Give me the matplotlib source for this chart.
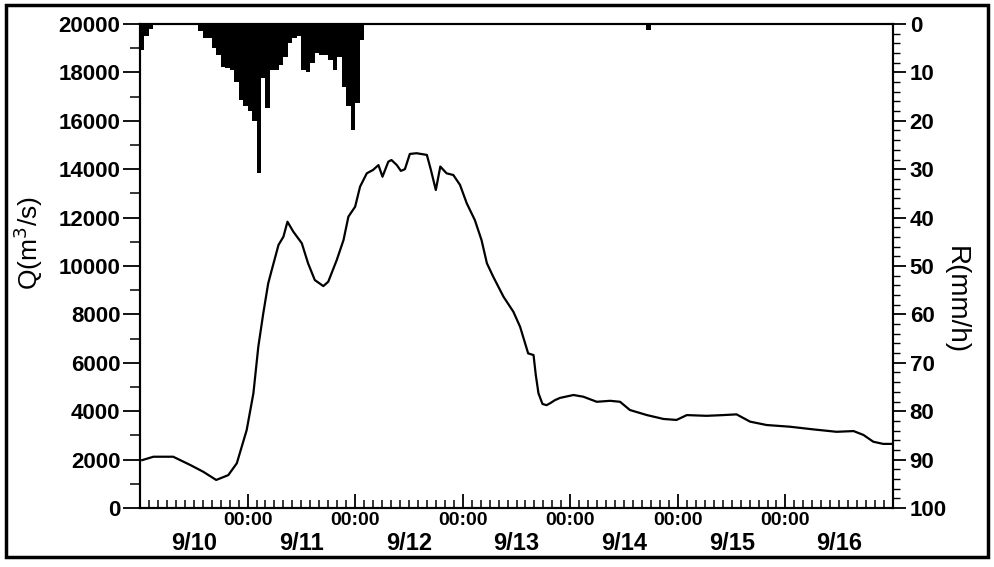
import matplotlib
matplotlib.use("Agg")
import matplotlib.pyplot as plt
from matplotlib.patches import Rectangle

# ---------------- data ----------------
# hours since 9/10 00:00
q_hours = [0.5, 3, 7.4, 11.2, 14.1, 17, 19.7, 21.6, 23.8, 25.3, 26.4, 27.5, 28.6, 29.4,
           30.9, 32, 32.9, 34.2, 36.1, 37.5, 39, 40.9, 42, 43.9, 45.4, 46.5, 48, 49.1,
           50.6, 52, 53.2, 54.1, 55.4, 56.1, 57.3, 58.2, 59.1, 60.2, 61.7, 64, 64.9, 66,
           67, 68.4, 69.9, 71.4, 72.9, 74.7, 76.2, 77.4, 78.8, 81.1, 83.3, 84.8, 86.6,
           87.8, 88.3, 88.9, 89.8, 90.7, 91.5, 92.6, 93.7, 96.7, 98.9, 101.9, 104.9,
           107.1, 109.3, 113.1, 116.8, 119.7, 122, 126.4, 130.1, 133.1, 136.1, 139.8,
           145, 150.2, 155.4, 159.2, 161.4, 163.6, 165.8, 167.7]
q_flow = [1980, 2120, 2120, 1780, 1500, 1160, 1360, 1850, 3220, 4740, 6670, 8040, 9280, 9840,
          10870, 11210, 11830, 11420, 10940, 10110, 9420, 9170, 9350, 10250, 11070, 12040, 12450, 13280,
          13830, 13970, 14170, 13690, 14310, 14380, 14170, 13930, 14000, 14630, 14660, 14590, 13970, 13140,
          14110, 13830, 13760, 13350, 12590, 11900, 11070, 10110, 9560, 8730, 8110, 7490, 6390,
          6320, 5500, 4740, 4300, 4250, 4330, 4460, 4550, 4670, 4600, 4390, 4430,
          4390, 4050, 3840, 3680, 3640, 3840, 3810, 3840, 3870, 3570, 3430,
          3360, 3250, 3150, 3180, 3020, 2740, 2650, 2650]

rain_hours = list(range(0, 50)) + [113]
rain_mm = [5.4, 2.5, 1.0, 0.3, 0.3, 0.3, 0.3, 0.3, 0.3, 0.3, 0.3, 0.3, 0.3,
           1.5, 2.9, 2.9, 5.0, 6.5, 8.8, 9.0, 9.5, 12.0, 15.7, 17.0, 18.0, 20.0,
           30.8, 11.2, 17.4, 9.5, 9.5, 8.5, 6.8, 4.0, 2.9, 2.5,
           9.5, 10.0, 8.0, 6.0, 6.4, 6.4, 7.5, 9.5, 6.8, 13.0, 17.0, 21.9, 16.3, 3.3,
           1.2]

day_labels = ["9/10", "9/11", "9/12", "9/13", "9/14", "9/15", "9/16"]
midnight_hours = [24, 48, 72, 96, 120, 144]
q_ticks = list(range(0, 20001, 2000))
r_ticks = list(range(0, 101, 10))

# ---------------- figure ----------------
plt.rcParams['font.family'] = ['Liberation Sans', 'DejaVu Sans']
fig = plt.figure(figsize=(9.95, 5.67), dpi=100)
ax = fig.add_axes([0.1407, 0.104, 0.7568, 0.8537])

ax.plot(q_hours, q_flow, color='black', lw=1.6)
ax.set_xlim(0, 168)
ax.set_ylim(0, 20000)

ax.set_yticks(q_ticks)
ax.set_yticks(list(range(1000, 20000, 2000)), minor=True)
ax.set_yticklabels([str(v) for v in q_ticks], fontsize=16, fontweight='bold')
ax.tick_params(axis='y', which='major', direction='out', length=12, width=1.3, pad=2)
ax.tick_params(axis='y', which='minor', direction='out', length=7, width=1.1)

ax.set_xticks(midnight_hours)
ax.set_xticklabels(["00:00"] * len(midnight_hours), fontsize=14, fontweight='bold')
ax.set_xticks(list(range(0, 169, 2)), minor=True)
ax.tick_params(axis='x', which='major', direction='in', length=10, width=1.3, pad=3)
ax.tick_params(axis='x', which='minor', direction='in', length=6, width=1.1)

for i, lab in enumerate(day_labels):
    ax.text(12 + 24 * i, -0.074, lab, transform=ax.get_xaxis_transform(),
            ha='center', va='center', fontsize=17, fontweight='bold')

ax.set_ylabel("Q(m$^3$/s)", fontsize=19)
ax.yaxis.set_label_coords(-0.126, 0.547)

for s in ax.spines.values():
    s.set_linewidth(1.5)

ax2 = ax.twinx()
ax2.bar(rain_hours, rain_mm, width=1.0, align='edge', color='black', lw=0)
ax2.set_ylim(100, 0)
ax2.set_yticks(r_ticks)
ax2.set_yticks(list(range(0, 101, 2)), minor=True)
ax2.set_yticklabels([str(v) for v in r_ticks], fontsize=16, fontweight='bold')
ax2.tick_params(axis='y', which='major', direction='out', length=9, width=1.3, pad=3)
ax2.tick_params(axis='y', which='minor', direction='out', length=5, width=1.0)
ax2.set_ylabel("R(mm/h)", fontsize=20, rotation=270, va='center')
ax2.yaxis.set_label_coords(1.083, 0.43)
for s in ax2.spines.values():
    s.set_linewidth(1.5)

fig.patches.append(Rectangle((0.006, 0.018), 0.987, 0.973, transform=fig.transFigure,
                             fill=False, edgecolor='black', lw=2.5))

fig.savefig("out.png", dpi=100)
